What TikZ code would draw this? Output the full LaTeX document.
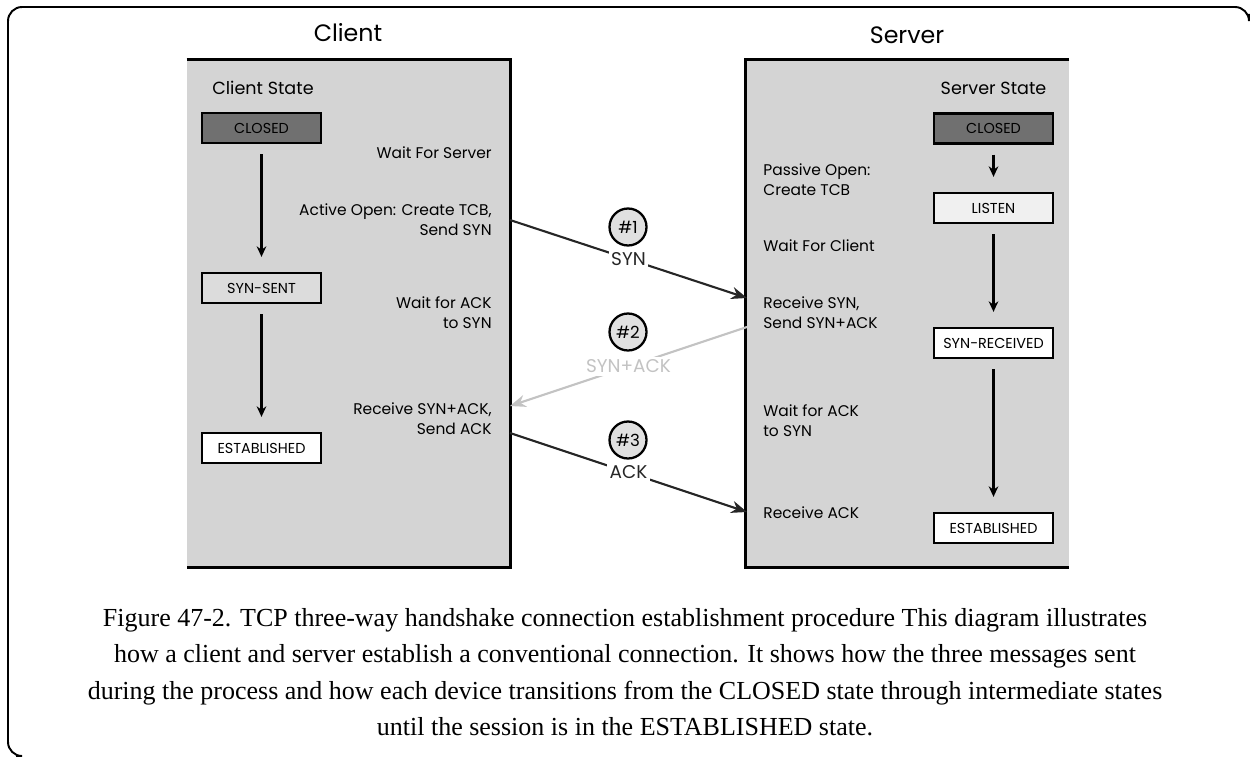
\documentclass[tikz,border=0pt]{standalone}
\usepackage{fontspec}
\setmainfont{Liberation Serif}
\newfontfamily\diagfont{Poppins}
\usepackage{tikz}
\usetikzlibrary{arrows.meta}
\definecolor{panelgray}{RGB}{212,212,212}
\definecolor{closedgray}{RGB}{112,112,112}
\definecolor{sentgray}{RGB}{220,220,220}
\definecolor{listengray}{RGB}{240,240,240}
\definecolor{replygray}{RGB}{195,195,195}
\definecolor{badgegray}{RGB}{224,224,224}

\begin{document}
\begin{tikzpicture}[x=0.02cm, y=-0.02cm,
  panel/.style={fill=panelgray, minimum width=6.46cm, minimum height=10.14cm, inner sep=0},
  state/.style={draw, line width=1.3pt, minimum width=2.38cm, minimum height=0.6cm,
                inner sep=0, font={\diagfont\fontsize{8.2}{9}\selectfont}, fill=#1},
  note/.style={inner sep=0, font={\diagfont\fontsize{8.8}{11.3}\selectfont}},
  title/.style={inner sep=0, font={\diagfont\fontsize{13.5}{16}\selectfont}},
  badge/.style={circle, draw, line width=1.3pt, fill=badgegray, minimum size=0.74cm,
                inner sep=0, font={\diagfont\fontsize{9.5}{11}\selectfont}},
  msg/.style={fill=white, inner sep=1.5pt, font={\diagfont\fontsize{10.5}{12}\selectfont}},
  trans/.style={-{Stealth[length=6pt,width=5.5pt]}, line width=1.2pt,
                shorten <=0.2cm, shorten >=0.3cm},
  arr/.style={-{Stealth[length=9pt,width=7pt]}, line width=1.2pt, black!85},
  font=\diagfont
]
\useasboundingbox (0,0) rectangle (1250,757);

% ---- outer frame ----
\draw[line width=1.1pt, rounded corners=8] (1249,14) -- (1249,7) -- (8,7) -- (8,756) -- (16,756);

% ---- panels ----
\node[panel] (cpanel) at (348.5,313.5) {};
\node[panel] (spanel) at (907.5,313.5) {};
\draw[line width=1.6pt] (cpanel.north west) -- (cpanel.north east) -- (cpanel.south east) -- (cpanel.south west);
\draw[line width=1.6pt] (spanel.north east) -- (spanel.north west) -- (spanel.south west) -- (spanel.south east);
\node[title] (ctitle) at (348,33) {Client};
\node[title] (stitle) at (907,35) {Server};

% ---- client column ----
\node[note, font={\diagfont\fontsize{10}{12}\selectfont}, anchor=west] (cstate) at (212,88) {Client State};
\node[state=closedgray] (cclosed) at (261.5,128) {CLOSED};
\node[state=sentgray]   (csent)   at (261.5,288) {SYN-SENT};
\node[state=white]      (cest)    at (261.5,448) {ESTABLISHED};
\draw[trans] (cclosed) -- (csent);
\draw[trans] (csent) -- (cest);

\node[note, anchor=east] (cwait)  at (492,153) {Wait For Server};
\node[note, anchor=east, align=right] (copen) at (492,220) {Active Open: Create TCB,\\Send SYN};
\node[note, anchor=east, align=right] (cack)  at (492,313) {Wait for ACK\\to SYN};
\node[note, anchor=east, align=right] (crecv) at (492,419) {Receive SYN+ACK,\\Send ACK};

% ---- server column ----
\node[note, font={\diagfont\fontsize{10}{12}\selectfont}] (sstate) at (993.5,88) {Server State};
\node[state=closedgray] (sclosed) at (993.5,128.5) {CLOSED};
\node[state=listengray] (slisten) at (993.5,208) {LISTEN};
\node[state=white]      (srcvd)   at (993.5,343) {SYN-RECEIVED};
\node[state=white]      (sest)    at (993.5,528) {ESTABLISHED};
\draw[trans] (sclosed) -- (slisten);
\draw[trans] (slisten) -- (srcvd);
\draw[trans] (srcvd) -- (sest);

\node[note, anchor=west, align=left] (sopen) at (763,180) {Passive Open:\\Create TCB};
\node[note, anchor=west] (swait) at (763,246) {Wait For Client};
\node[note, anchor=west, align=left] (srecv) at (763,313) {Receive SYN,\\Send SYN+ACK};
\node[note, anchor=west, align=left] (sack)  at (763,421) {Wait for ACK\\to SYN};
\node[note, anchor=west] (sfin) at (763,513) {Receive ACK};

% ---- message end points on the panel edges ----
\coordinate (synfrom) at (510,220);
\coordinate (synto)   at (747,298);
\coordinate (sakfrom) at (747,327);
\coordinate (sakto)   at (510,406);
\coordinate (ackfrom) at (510,433);
\coordinate (ackto)   at (747,512);

% ---- three messages ----
\draw[arr] (synfrom) -- node[msg] (synlbl) {SYN} (synto);
\draw[arr, replygray] (sakfrom) -- node[msg, text=replygray] (saklbl) {SYN+ACK} (sakto);
\draw[arr] (ackfrom) -- node[msg] (acklbl) {ACK} (ackto);
\node[badge] (b1) at (628,227) {\#1};
\node[badge] (b2) at (628,332) {\#2};
\node[badge] (b3) at (628,440) {\#3};

% ---- caption ----
\node[align=center, inner sep=0, font={\rmfamily\fontsize{14.8}{20.8}\selectfont}] (cap) at (625,672)
  {Figure 47-2. TCP three-way handshake connection establishment procedure This diagram illustrates\\
   how a client and server establish a conventional connection. It shows how the three messages sent\\
   during the process and how each device transitions from the CLOSED state through intermediate states\\
   until the session is in the ESTABLISHED state.};

\end{tikzpicture}
\end{document}
